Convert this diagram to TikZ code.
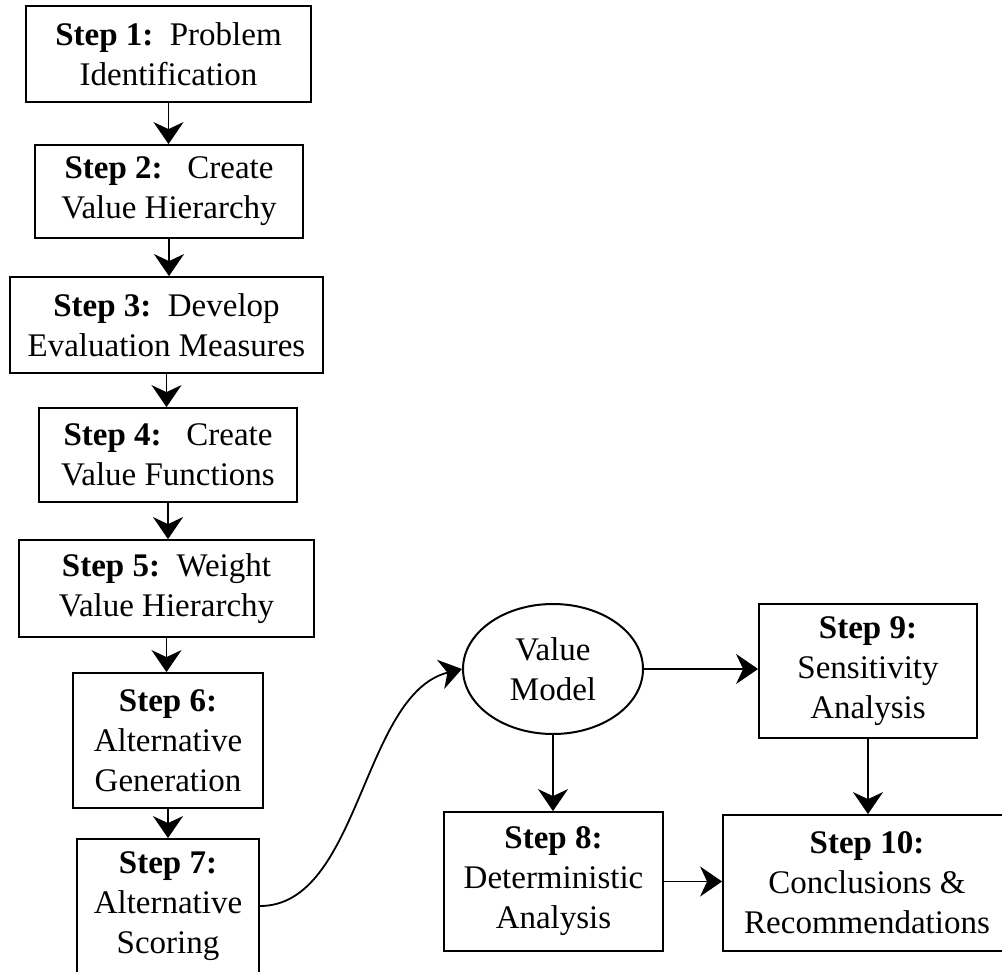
\documentclass[tikz,border=0pt]{standalone}
\usepackage{fontspec}
\setmainfont{Liberation Serif}
\usetikzlibrary{arrows.meta,shapes.geometric}
\begin{document}
\begin{tikzpicture}[x=1pt,y=-1pt,
  stepbox/.style={draw=black,line width=1.8pt,rectangle,inner sep=0pt,align=center,
    font=\fontsize{33}{40}\selectfont},
  valuebox/.style={draw=black,line width=2pt,ellipse,inner sep=0pt,align=center,
    font=\fontsize{33}{40}\selectfont},
  arr/.style={line width=1.8pt,-{Stealth[length=22pt,width=30pt,inset=7pt]}}]
\useasboundingbox (0,0) rectangle (1002,972);
\node[stepbox,minimum width=285pt,minimum height=96pt] (s1) at (168.5,54) {\textbf{Step 1:}\ \ Problem\\Identification};
\node[stepbox,minimum width=268pt,minimum height=93pt] (s2) at (169,191.5) {\textbf{Step 2:}\ \ \ Create\\Value Hierarchy};
\node[stepbox,minimum width=313pt,minimum height=96pt] (s3) at (166.5,325) {\textbf{Step 3:}\ \ Develop\\Evaluation Measures};
\node[stepbox,minimum width=258pt,minimum height=94pt] (s4) at (168,455) {\textbf{Step 4:}\ \ \ Create\\Value Functions};
\node[stepbox,minimum width=295pt,minimum height=97pt] (s5) at (166.5,588.5) {\textbf{Step 5:}\ \ Weight\\Value Hierarchy};
\node[stepbox,minimum width=190pt,minimum height=135pt] (s6) at (168,740.5) {\textbf{Step 6:}\\Alternative\\Generation};
\node[stepbox,minimum width=182pt,minimum height=134pt] (s7) at (168,906) {\textbf{Step 7:}\\Alternative\\Scoring};
\node[valuebox,minimum width=180pt,minimum height=130pt] (vm) at (553,669) {Value\\Model};
\node[stepbox,minimum width=218pt,minimum height=134pt] (s9) at (868,671) {\textbf{Step 9:}\\Sensitivity\\Analysis};
\node[stepbox,minimum width=219pt,minimum height=139pt] (s8) at (553.5,881.5) {\textbf{Step 8:}\\Deterministic\\Analysis};
\node[stepbox,minimum width=288pt,minimum height=136pt] (s10) at (867,883) {\textbf{Step 10:}\\Conclusions \&\\Recommendations};
\draw[arr] (s1.south) -- (s1.south |- s2.north);
\draw[arr] (s2.south) -- (s2.south |- s3.north);
\draw[arr] (s3.south) -- (s3.south |- s4.north);
\draw[arr] (s4.south) -- (s4.south |- s5.north);
\draw[arr] (s5.south) -- (s5.south |- s6.north);
\draw[arr] (s6.south) -- (s6.south |- s7.north);
\draw[arr] (s7.east) .. controls +(100,0) and +(-100,25) .. (vm.west);
\draw[arr] (vm.east) -- (vm.east -| s9.west);
\draw[arr] (vm.south) -- (vm.south |- s8.north);
\draw[arr] (s9.south) -- (s9.south |- s10.north);
\draw[arr] (s8.east) -- (s8.east -| s10.west);
\end{tikzpicture}
\end{document}
